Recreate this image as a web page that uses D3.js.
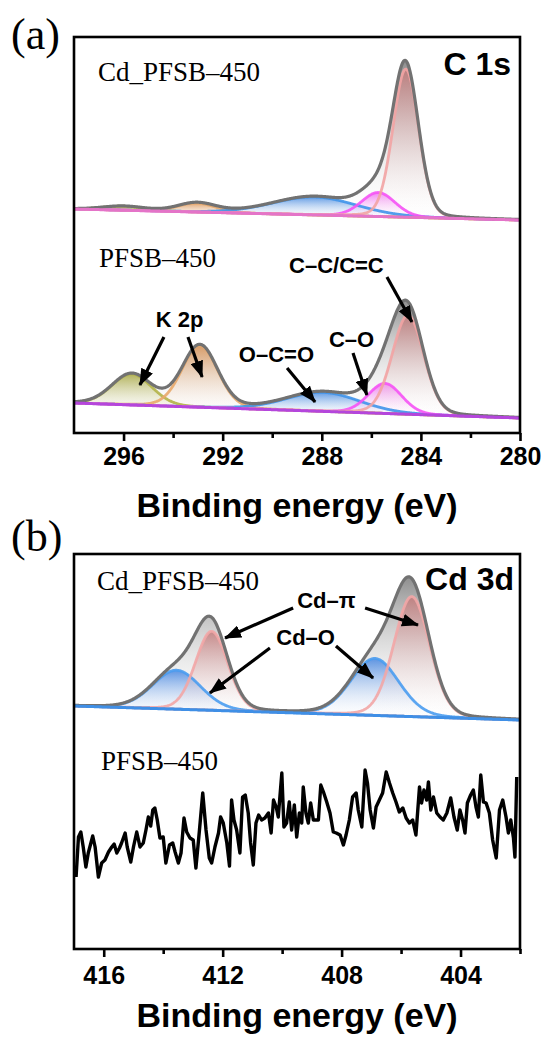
<!DOCTYPE html>
<html>
<head>
<meta charset="utf-8">
<script src="https://cdn.jsdelivr.net/npm/d3@7.9.0/dist/d3.min.js"></script>
<style>
  body { margin: 0; background: #fff; }
  text { fill: #000; }
</style>
</head>
<body>
<div id="chart"></div>
<script>
const width = 544;
const height = 1044;

// ---- (a) C 1s : fitted components, order olive, orange, blue, pink, red
const c1sColors = ["#b3b348", "#e8a86a", "#3f93ea", "#f553f5", "#f2a3a3"];
const c1sFills = ["#a3a334", "#d98e4c", "#3a82de", "#ee66ee", "#c47878"];

const cdC1sCenters = [296.0, 293.05, 288.3, 285.72, 284.61];
const cdC1sHeights = [4, 9, 18, 24, 148];
const cdC1sFwhm = [2.0, 1.8, 4.0, 1.6, 1.22];
const cdC1sBase = [224, 213]; // at 298 eV, at 280 eV

const pfC1sCenters = [295.67, 292.92, 287.95, 285.45, 284.52];
const pfC1sHeights = [31, 62, 19, 30, 99];
const pfC1sFwhm = [1.9, 1.7, 3.5, 1.6, 1.5];
const pfC1sBase = [30, 15];

const c1sTicks = [296, 292, 288, 284, 280];
const c1sMinor = [294, 290, 286, 282];

// ---- (b) Cd 3d : order blue 3/2, red 3/2, blue 5/2, red 5/2
const cd3dColors = ["#4a9cf0", "#f2a6a6", "#4a9cf0", "#f2a6a6"];
const cd3dFills = ["#3a7fe0", "#c47878", "#3a7fe0", "#c47878"];
const cd3dCenters = [413.55, 412.37, 406.88, 405.64];
const cd3dHeights = [39, 79, 57, 120];
const cd3dFwhm = [1.9, 1.28, 1.9, 1.42];
const cd3dBase = [243, 229]; // at 417 eV, at 402 eV

const cd3dTicks = [416, 412, 408, 404];
const cd3dMinor = [414, 410, 406, 402];

// PFSB-450 Cd 3d region, raw counts
const noiseEnergy = [
  416.93, 416.85, 416.77, 416.69, 416.60, 416.52, 416.37, 416.29, 416.18, 416.07,
  415.96, 415.84, 415.73, 415.65, 415.56, 415.47, 415.40, 415.28, 415.21, 415.09,
  415.00, 414.89, 414.78, 414.67, 414.58, 414.50, 414.42, 414.35, 414.28, 414.20,
  414.11, 414.00, 413.91, 413.79, 413.68, 413.60, 413.49, 413.40, 413.30, 413.21,
  413.10, 412.99, 412.90, 412.78, 412.67, 412.56, 412.45, 412.37, 412.26, 412.14,
  412.07, 411.98, 411.86, 411.77, 411.70, 411.62, 411.53, 411.42, 411.33, 411.24,
  411.14, 411.06, 410.97, 410.88, 410.79, 410.69, 410.58, 410.46, 410.37, 410.29,
  410.20, 410.13, 410.01, 409.94, 409.85, 409.76, 409.68, 409.59, 409.51, 409.42,
  409.34, 409.29, 409.20, 409.12, 409.04, 408.95, 408.86, 408.78, 408.70, 408.61,
  408.50, 408.39, 408.28, 408.18, 408.05, 407.94, 407.85, 407.74, 407.63, 407.51,
  407.44, 407.32, 407.21, 407.13, 407.04, 406.93, 406.84, 406.73, 406.62, 406.50,
  406.39, 406.28, 406.17, 406.06, 405.94, 405.83, 405.72, 405.61, 405.50, 405.38,
  405.31, 405.23, 405.14, 405.08, 405.00, 404.91, 404.80, 404.69, 404.58, 404.46,
  404.33, 404.22, 404.11, 404.02, 403.93, 403.85, 403.77, 403.66, 403.57, 403.48,
  403.40, 403.32, 403.23, 403.14, 403.03, 402.92, 402.80, 402.69, 402.58, 402.47,
  402.39, 402.31, 402.22, 402.17, 402.11
];
const noiseCounts = [
  72, 112, 117, 102, 82, 96, 113, 102, 72, 86,
  89, 97, 102, 105, 96, 101, 106, 116, 102, 87,
  102, 117, 102, 106, 119, 132, 123, 139, 141, 129,
  111, 112, 86, 104, 106, 97, 86, 96, 131, 117,
  111, 109, 81, 119, 156, 119, 91, 86, 102, 116,
  132, 126, 106, 83, 149, 129, 119, 96, 152, 154,
  136, 106, 84, 126, 134, 129, 131, 136, 116, 149,
  142, 132, 176, 122, 126, 147, 119, 144, 112, 136,
  126, 162, 136, 126, 146, 129, 129, 129, 164, 157,
  147, 136, 117, 116, 114, 104, 114, 129, 152, 156,
  139, 122, 179, 166, 139, 121, 142, 149, 156, 177,
  166, 156, 147, 137, 141, 131, 126, 129, 114, 162,
  146, 159, 149, 167, 139, 152, 136, 132, 129, 136,
  151, 132, 119, 139, 129, 116, 146, 154, 159, 142,
  132, 174, 147, 146, 136, 109, 91, 139, 149, 132,
  116, 129, 111, 92, 172
];

// annotation positions in data units: text at (e, c), arrows [[E0,c0,E1,c1],...]
const c1sNotes = [
  { label: "C\u2013C/C=C", e: 287.41, c: 160, arrows: [[285.37, 156, 284.36, 111]] },
  { label: "K 2p", e: 293.74, c: 106, arrows: [[294.37, 96, 295.34, 48], [293.40, 96, 292.83, 56]] },
  { label: "O\u2013C=O", e: 289.83, c: 71, arrows: [[289.40, 65, 288.27, 31]] },
  { label: "C\u2013O", e: 286.80, c: 86, arrows: [[286.74, 80, 286.18, 38]] }
];
const cd3dNotes = [
  { label: "Cd\u2013\u03c0", e: 408.51, c: 341, arrows: [[409.63, 341, 411.92, 311], [407.21, 341, 405.43, 324]] },
  { label: "Cd\u2013O", e: 409.21, c: 304, arrows: [[410.41, 301, 412.43, 256], [408.19, 303, 406.94, 271]] }
];

const sans = "'Liberation Sans', Arial, sans-serif";
const serif = "'Liberation Serif', 'Times New Roman', serif";

const svg = d3.select("#chart").append("svg")
  .attr("width", width)
  .attr("height", height);

const defs = svg.append("defs");
defs.append("marker")
  .attr("id", "arrow")
  .attr("markerUnits", "userSpaceOnUse")
  .attr("viewBox", "0 0 17 13")
  .attr("refX", 16)
  .attr("refY", 6.5)
  .attr("markerWidth", 17)
  .attr("markerHeight", 13)
  .attr("orient", "auto")
  .append("path")
  .attr("d", "M0,0 L17,6.5 L0,13 Z")
  .attr("fill", "#000");

let gradId = 0;
function makeGradient(color, topOpacity) {
  const id = "g" + gradId++;
  const lg = defs.append("linearGradient")
    .attr("id", id)
    .attr("x1", 0).attr("y1", 0).attr("x2", 0).attr("y2", 1);
  lg.append("stop").attr("offset", 0).attr("stop-color", color).attr("stop-opacity", topOpacity);
  lg.append("stop").attr("offset", 1).attr("stop-color", "#fff").attr("stop-opacity", 0.05);
  return `url(#${id})`;
}

// pseudo-Voigt peak, mostly Gaussian
function peak(e, c, h, w) {
  const d = (e - c) / w;
  return h * (0.88 * Math.exp(-4 * Math.LN2 * d * d) + 0.12 / (1 + 4 * d * d));
}

function drawSpectrum(g, x, y, base, centers, heights, fwhm, colors, fills, baseColor) {
  const [e0, e1] = x.domain();
  const grid = d3.range(Math.min(e0, e1), Math.max(e0, e1) + 0.001, 0.02);
  const baseAt = (e) => base[0] + (base[1] - base[0]) * (e0 - e) / (e0 - e1);
  const comp = centers.map((c, i) => (e) => peak(e, c, heights[i], fwhm[i]));
  const total = (e) => baseAt(e) + d3.sum(comp, (f) => f(e));

  const area = (f) => d3.area()
    .x((e) => x(e))
    .y0((e) => y(baseAt(e)))
    .y1((e) => y(baseAt(e) + f(e)))(grid);
  const line = (f) => d3.line()
    .x((e) => x(e))
    .y((e) => y(f(e)))(grid);

  // envelope shading
  g.append("path")
    .attr("d", area((e) => total(e) - baseAt(e)))
    .attr("fill", makeGradient("#7a7a7a", 0.85));

  comp.forEach((f, i) => {
    g.append("path")
      .attr("d", area(f))
      .attr("fill", makeGradient(fills[i], 0.8));
  });
  comp.forEach((f, i) => {
    g.append("path")
      .attr("d", line((e) => baseAt(e) + f(e)))
      .attr("fill", "none")
      .attr("stroke", colors[i])
      .attr("stroke-width", 2.8)
      .attr("stroke-opacity", 0.9);
  });
  g.append("path")
    .attr("d", line(total))
    .attr("fill", "none")
    .attr("stroke", "#727272")
    .attr("stroke-width", 3.2);
  g.append("path")
    .attr("d", line(baseAt))
    .attr("fill", "none")
    .attr("stroke", baseColor)
    .attr("stroke-width", 3);
}

function drawNotes(g, x, y, notes) {
  notes.forEach((n) => {
    g.append("text")
      .attr("x", x(n.e))
      .attr("y", y(n.c))
      .attr("text-anchor", "middle")
      .attr("font-family", sans)
      .attr("font-weight", "bold")
      .attr("font-size", 22)
      .text(n.label);
    n.arrows.forEach((a) => {
      g.append("line")
        .attr("x1", x(a[0])).attr("y1", y(a[1]))
        .attr("x2", x(a[2])).attr("y2", y(a[3]))
        .attr("stroke", "#000")
        .attr("stroke-width", 3.2)
        .attr("marker-end", "url(#arrow)");
    });
  });
}

function drawFrame(g, x, y, box, ticks, minor, labelY, titleY) {
  g.append("rect")
    .attr("x", box.left).attr("y", box.top)
    .attr("width", box.right - box.left)
    .attr("height", box.bottom - box.top)
    .attr("fill", "none")
    .attr("stroke", "#000")
    .attr("stroke-width", 2.6);

  const major = g.append("g")
    .attr("transform", `translate(0,${box.bottom})`)
    .call(d3.axisBottom(x).tickValues(ticks).tickSize(8).tickSizeOuter(0).tickFormat(d3.format("d")));
  major.select(".domain").remove();
  major.selectAll("line").attr("stroke-width", 2.6);
  major.selectAll("text")
    .attr("y", labelY)
    .attr("dy", null)
    .attr("font-family", sans)
    .attr("font-weight", "bold")
    .attr("font-size", 25)
    .attr("fill", "#000");

  const small = g.append("g")
    .attr("transform", `translate(0,${box.bottom})`)
    .call(d3.axisBottom(x).tickValues(minor).tickSize(5).tickSizeOuter(0).tickFormat(""));
  small.select(".domain").remove();
  small.selectAll("line").attr("stroke-width", 2.6);

  g.append("text")
    .attr("x", (box.left + box.right) / 2)
    .attr("y", titleY)
    .attr("text-anchor", "middle")
    .attr("font-family", sans)
    .attr("font-weight", "bold")
    .attr("font-size", 34)
    .text("Binding energy (eV)");
}

function sampleLabel(g, xPos, yPos, txt) {
  g.append("text")
    .attr("x", xPos).attr("y", yPos)
    .attr("font-family", serif)
    .attr("font-size", 27)
    .attr("fill", "#111")
    .text(txt);
}

// ================= panel (a)
const boxA = { left: 74, right: 520, top: 37, bottom: 433 };
const xA = d3.scaleLinear().domain([298, 280]).range([boxA.left, boxA.right]);
const yA = d3.scaleLinear().domain([0, 396]).range([boxA.bottom, boxA.top]);
const gA = svg.append("g");

drawSpectrum(gA, xA, yA, cdC1sBase, cdC1sCenters, cdC1sHeights, cdC1sFwhm, c1sColors, c1sFills, "#e474c8");
drawSpectrum(gA, xA, yA, pfC1sBase, pfC1sCenters, pfC1sHeights, pfC1sFwhm, c1sColors, c1sFills, "#b446dc");
drawNotes(gA, xA, yA, c1sNotes);
drawFrame(gA, xA, yA, boxA, c1sTicks, c1sMinor, 32, 517);

sampleLabel(gA, 98, 81, "Cd_PFSB\u2013450");
sampleLabel(gA, 99, 267, "PFSB\u2013450");
gA.append("text")
  .attr("x", 511).attr("y", 75)
  .attr("text-anchor", "end")
  .attr("font-family", sans)
  .attr("font-weight", "bold")
  .attr("font-size", 32)
  .text("C 1s");
svg.append("text")
  .attr("x", 11).attr("y", 49)
  .attr("font-family", serif)
  .attr("font-size", 44)
  .text("(a)");

// ================= panel (b)
const boxB = { left: 74, right: 520, top: 554, bottom: 949 };
const xB = d3.scaleLinear().domain([417, 402]).range([boxB.left, boxB.right]);
const yB = d3.scaleLinear().domain([0, 395]).range([boxB.bottom, boxB.top]);
const gB = svg.append("g");

drawSpectrum(gB, xB, yB, cd3dBase, cd3dCenters, cd3dHeights, cd3dFwhm, cd3dColors, cd3dFills, "#3f8fe6");

gB.append("path")
  .datum(noiseEnergy.map((e, i) => [e, noiseCounts[i]]))
  .attr("d", d3.line().x((d) => xB(d[0])).y((d) => yB(d[1])))
  .attr("fill", "none")
  .attr("stroke", "#000")
  .attr("stroke-width", 3.4)
  .attr("stroke-linejoin", "round");

drawNotes(gB, xB, yB, cd3dNotes);
drawFrame(gB, xB, yB, boxB, cd3dTicks, cd3dMinor, 35, 1027);

sampleLabel(gB, 97, 590, "Cd_PFSB\u2013450");
sampleLabel(gB, 101, 770, "PFSB\u2013450");
gB.append("text")
  .attr("x", 514).attr("y", 590)
  .attr("text-anchor", "end")
  .attr("font-family", sans)
  .attr("font-weight", "bold")
  .attr("font-size", 32)
  .text("Cd 3d");
svg.append("text")
  .attr("x", 11).attr("y", 551)
  .attr("font-family", serif)
  .attr("font-size", 44)
  .text("(b)");
</script>
</body>
</html>
